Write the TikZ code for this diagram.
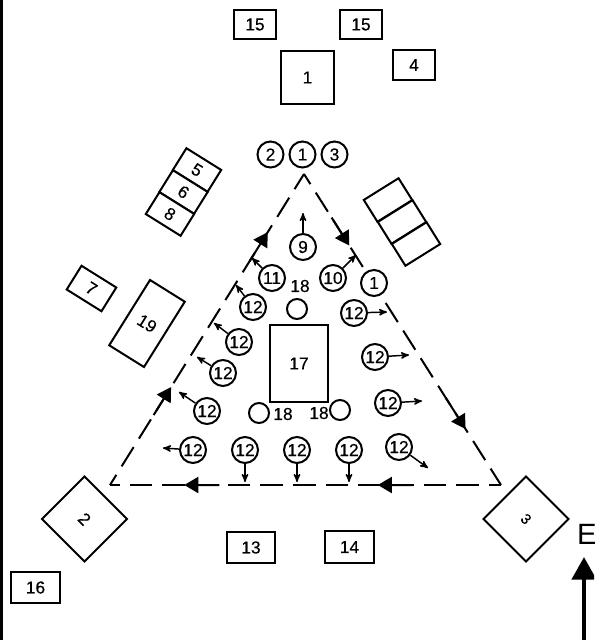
\documentclass[tikz,border=0pt]{standalone}
\usepackage{fontspec}
\setmainfont{Liberation Sans}
\newfontfamily\lblface[FakeBold=0.35]{Liberation Sans}
\usetikzlibrary{arrows,arrows.meta,calc}

\begin{document}
\begin{tikzpicture}[x=.75pt,y=-.75pt,>=stealth',node distance=24pt,line width=1.5pt,
  lbl font/.style={font=\lblface\fontsize{13}{15}\selectfont},
  ring node/.style={circle,draw,fill=white,minimum size=19.5pt,inner sep=0pt,lbl font},
  post node/.style={circle,draw,fill=white,minimum size=15pt,inner sep=0pt},
  box node/.style={rectangle,draw,fill=white,minimum width=31.5pt,minimum height=22pt,inner sep=0pt,lbl font},
  wide node/.style={box node,minimum width=36.5pt,minimum height=23.5pt},
  rack node/.style={box node,minimum width=30.75pt,minimum height=19.3pt,rotate=-32},
  blank node/.style={rack node,rotate=64},
  gate node/.style={box node,minimum width=45pt,minimum height=45pt,rotate=-45},
  plain node/.style={inner sep=0pt,lbl font},
  flow/.style={->,line width=1.1pt},
  track/.style={dash pattern=on 17pt off 7.5pt,dash phase=8pt},
  head/.style={-{Triangle[length=10.5pt,width=12pt]}}]

  \useasboundingbox (0,0) rectangle (596,640);
  \clip (0,0) rectangle (594,640);

  % page edge
  \coordinate (edgea) at (1,0);
  \coordinate (edgeb) at (1,640);
  \draw[line width=2.4pt] (edgea) -- (edgeb);

  % triangle
  \coordinate (apex) at (304,174);
  \coordinate (lc) at (110,485);
  \coordinate (rc) at (501,485);
  \draw[track] (apex) -- (rc);
  \draw[track] (rc) -- (lc);
  \draw[track] (lc) -- (apex);

  % heads on the triangle
  \coordinate (ra) at ($(apex)!.14!(rc)$);
  \coordinate (rb) at ($(apex)!.23!(rc)$);
  \coordinate (rd) at ($(apex)!.72!(rc)$);
  \coordinate (re) at ($(apex)!.82!(rc)$);
  \coordinate (ba) at ($(rc)!.225!(lc)$);
  \coordinate (bb) at ($(rc)!.315!(lc)$);
  \coordinate (bd) at ($(rc)!.72!(lc)$);
  \coordinate (be) at ($(rc)!.81!(lc)$);
  \coordinate (la) at ($(lc)!.225!(apex)$);
  \coordinate (lb) at ($(lc)!.315!(apex)$);
  \coordinate (ld) at ($(lc)!.72!(apex)$);
  \coordinate (le) at ($(lc)!.813!(apex)$);
  \path[head]
    (ra) edge (rb)
    (rd) edge (re)
    (ba) edge (bb)
    (bd) edge (be)
    (la) edge (lb)
    (ld) edge (le);

  % boxes
  \node[box node] (b15a) at (255,24.5) {15};
  \node[box node] (b15b) at (361,24.5) {15};
  \node[box node,minimum width=39.75pt,minimum height=39.75pt] (b1) at (307.5,77.5) {1};
  \node[box node] (b4) at (414,65) {4};
  \node[wide node] (b13) at (251,547.5) {13};
  \node[wide node] (b14) at (349.5,547) {14};
  \node[wide node] (b16) at (35.5,587.5) {16};
  \node[box node,minimum width=43.5pt,minimum height=57.75pt] (b17) at (299,363.5) {17};

  \node[rack node] (r5) at (197,170) {5};
  \node[rack node] (r6) at (183.5,192) {6};
  \node[rack node] (r8) at (170,214) {8};
  \node[blank node] (s1) at (388,200) {};
  \node[blank node] (s2) at (402,222) {};
  \node[blank node] (s3) at (416,244) {};
  \node[rack node,minimum height=21pt] (b7) at (91.5,288.5) {7};
  \node[rack node,minimum height=57.75pt] (b19) at (147,323.5) {19};

  \node[gate node] (g2) at (84.5,519) {2};
  \node[gate node,font=\lblface\fontsize{11}{13}\selectfont] (g3) at (526,519) {3};

  % top row
  \node[ring node] (top2) at (270.5,154.5) {2};
  \node[ring node] (top1) [right of=top2] {1};
  \node[ring node] (top3) [right of=top1] {3};

  % rings
  \node[ring node] (c9) at (303,247) {9};
  \node[ring node] (c11) at (272,278) {11};
  \node[ring node] (c10) at (333,278) {10};
  \node[ring node] (c1) at (374,283) {1};
  \node[ring node] (ca) at (253,307) {12};
  \node[ring node] (cb) at (354,313) {12};
  \node[ring node] (cc) at (239,342) {12};
  \node[ring node] (cd) at (223,373) {12};
  \node[ring node] (ce) at (207,411) {12};
  \node[ring node] (cf) at (193,450) {12};
  \node[ring node] (cg) at (245,450) {12};
  \node[ring node] (ch) at (297,450) {12};
  \node[ring node] (ci) at (349,450) {12};
  \node[ring node] (ck) at (399,447) {12};
  \node[ring node] (cl) at (375,357) {12};
  \node[ring node] (cm) at (388,403) {12};

  % ends of the small arrows
  \coordinate (t9) at (303,213);
  \coordinate (t11) at (252,258);
  \coordinate (t10) at (356,255);
  \coordinate (ta) at (236,285);
  \coordinate (tb) at (387,312);
  \coordinate (tc) at (214,323);
  \coordinate (td) at (197,357);
  \coordinate (te) at (179,392);
  \coordinate (tf) at (163,448);
  \coordinate (tg) at (245,482);
  \coordinate (th) at (297,482);
  \coordinate (ti) at (349,482);
  \coordinate (tk) at (428,468);
  \coordinate (tl) at (409,355);
  \coordinate (tm) at (422,401);

  \path[flow]
    (c9) edge (t9)
    (c11) edge (t11)
    (c10) edge (t10)
    (ca) edge (ta)
    (cb) edge (tb)
    (cc) edge (tc)
    (cd) edge (td)
    (ce) edge (te)
    (cf) edge (tf)
    (cg) edge (tg)
    (ch) edge (th)
    (ci) edge (ti)
    (ck) edge (tk)
    (cl) edge (tl)
    (cm) edge (tm);

  % posts
  \node[post node] (p1) at (297,309) {};
  \node[post node] (p2) at (259,413) {};
  \node[post node] (p3) at (340,410) {};
  \node[plain node] (n1) at (300,286) {18};
  \node[plain node] (n2) at (283,414) {18};
  \node[plain node] (n3) at (319,413) {18};

  % east arrow
  \coordinate (ebase) at (584,640);
  \coordinate (etip) at (584,557);
  \draw[-{Triangle[length=17pt,width=18pt]},line width=3.4pt] (ebase) -- (etip);
  \node[inner sep=0pt,anchor=west,font=\fontsize{22}{24}\selectfont] (east) at (576,534) {E};
\end{tikzpicture}
\end{document}
